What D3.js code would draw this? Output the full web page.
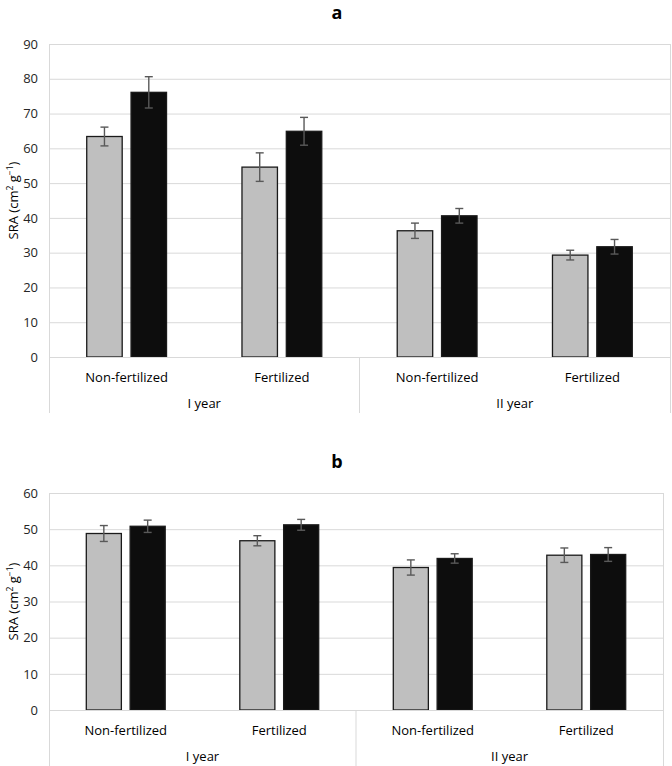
<!DOCTYPE html>
<html><head><meta charset="utf-8">
<script src="https://cdn.jsdelivr.net/npm/d3@7"></script>
<style>
body{margin:0;background:#fff;}
svg{display:block;font-family:"Open Sans",sans-serif;}
</style></head>
<body>
<svg id="chart" width="672" height="766"></svg>
<script>
const categories = ["Non-fertilized","Fertilized","Non-fertilized","Fertilized"];
const groups = ["I year","II year"];
const series = ["gray","black"];
// Panel a
const aGray = [63.4, 54.6, 36.3, 29.3];
const aGrayErr = [2.7, 4.1, 2.2, 1.4];
const aBlack = [76.1, 64.9, 40.6, 31.7];
const aBlackErr = [4.5, 4.0, 2.1, 2.1];
const aTicks = [0,10,20,30,40,50,60,70,80,90];
// Panel b
const bGray = [48.8, 46.8, 39.4, 42.8];
const bGrayErr = [2.2, 1.4, 2.1, 2.0];
const bBlack = [50.8, 51.2, 41.9, 43.0];
const bBlackErr = [1.7, 1.5, 1.3, 1.9];
const bTicks = [0,10,20,30,40,50,60];

const svg = d3.select("#chart");
const colors = {gray:"#bfbfbf", black:"#0d0d0d"};

function panel(cfg){
  const g = svg.append("g");
  const y = d3.scaleLinear().domain([0, cfg.ticks[cfg.ticks.length-1]]).range([cfg.bottom, cfg.top]);
  const x0 = d3.scaleBand().domain(d3.range(categories.length)).range([cfg.left, cfg.right]);
  const half = x0.bandwidth()*0.257;
  const x1 = d3.scaleBand().domain(series).range([-half, half]).paddingInner(0.2);

  // title
  g.append("text").attr("x", 337).attr("y", cfg.top-25).attr("text-anchor","middle")
    .attr("font-weight","bold").attr("font-size","18px").attr("fill","#000").text(cfg.title);

  // gridlines
  g.append("g").selectAll("line").data(cfg.ticks.slice(1)).join("line")
    .attr("x1", cfg.left).attr("x2", cfg.right)
    .attr("y1", d=>y(d)+0.5).attr("y2", d=>y(d)+0.5)
    .attr("stroke","#d9d9d9").attr("stroke-width",1);
  // right border
  g.append("line").attr("x1", cfg.right+0.5).attr("x2", cfg.right+0.5)
    .attr("y1", cfg.top).attr("y2", cfg.bottom).attr("stroke","#d9d9d9");

  // y axis labels
  const yAxis = d3.axisLeft(y).tickValues(cfg.ticks).tickSize(0).tickPadding(11);
  const ya = g.append("g").attr("transform",`translate(${cfg.left},0)`).call(yAxis);
  ya.select(".domain").attr("stroke","#d9d9d9");
  ya.selectAll("text").attr("font-size","13px").attr("fill","#262626").attr("font-family","Open Sans, sans-serif");

  // y title
  const yt = g.append("text").attr("transform",`translate(${cfg.ylabX},${(cfg.top+cfg.bottom)/2}) rotate(-90)`)
    .attr("text-anchor","middle").attr("font-size","13px").attr("fill","#000");
  yt.append("tspan").text("SRA (cm");
  yt.append("tspan").attr("font-size","8.5px").attr("dy","-5").text("2");
  yt.append("tspan").attr("dy","5").text(" g");
  yt.append("tspan").attr("font-size","8.5px").attr("dy","-5").text("−1");
  yt.append("tspan").attr("dy","5").text(")");

  // bars
  const data = [];
  categories.forEach((c,i)=>{
    data.push({i, s:"gray", v:cfg.gray[i], e:cfg.grayErr[i]});
    data.push({i, s:"black", v:cfg.black[i], e:cfg.blackErr[i]});
  });
  const cx = i => x0(i) + x0.bandwidth()/2;
  g.append("g").selectAll("rect").data(data).join("rect")
    .attr("x", d=>cx(d.i)+x1(d.s))
    .attr("y", d=>y(d.v))
    .attr("width", x1.bandwidth())
    .attr("height", d=>y(0)-y(d.v))
    .attr("fill", d=>colors[d.s])
    .attr("stroke","#1a1a1a").attr("stroke-width",1.3);

  // error bars
  const eb = g.append("g").attr("stroke","#595959").attr("stroke-width",1.4);
  data.forEach(d=>{
    const xm = cx(d.i)+x1(d.s)+x1.bandwidth()/2;
    eb.append("line").attr("x1",xm).attr("x2",xm).attr("y1",y(d.v+d.e)).attr("y2",y(d.v-d.e));
    eb.append("line").attr("x1",xm-4).attr("x2",xm+4).attr("y1",y(d.v+d.e)).attr("y2",y(d.v+d.e));
    eb.append("line").attr("x1",xm-4).attr("x2",xm+4).attr("y1",y(d.v-d.e)).attr("y2",y(d.v-d.e));
  });

  // category axis
  g.append("line").attr("x1",cfg.left).attr("x2",cfg.right).attr("y1",y(0)+0.5).attr("y2",y(0)+0.5)
    .attr("stroke","#d9d9d9");
  const mid = x0(2);
  [cfg.left+0.5, mid, cfg.right+0.5].forEach(xx=>{
    g.append("line").attr("x1",xx).attr("x2",xx).attr("y1",y(0)).attr("y2",cfg.catBottom)
      .attr("stroke","#d9d9d9");
  });
  g.append("g").selectAll("text").data(categories).join("text")
    .attr("x",(d,i)=>cx(i)).attr("y", y(0)+25).attr("text-anchor","middle")
    .attr("font-size","13px").attr("fill","#000").text(d=>d);
  g.append("g").selectAll("text").data(groups).join("text")
    .attr("x",(d,i)=>(x0(i*2)+x0(i*2+1)+x0.bandwidth())/2).attr("y", y(0)+51).attr("text-anchor","middle")
    .attr("font-size","13px").attr("fill","#000").text(d=>d);
}

panel({title:"a", top:44, bottom:357, left:49, right:670, ticks:aTicks,
  gray:aGray, grayErr:aGrayErr, black:aBlack, blackErr:aBlackErr, ylabX:18, catBottom:413});
panel({title:"b", top:493, bottom:710, left:49, right:663, ticks:bTicks,
  gray:bGray, grayErr:bGrayErr, black:bBlack, blackErr:bBlackErr, ylabX:18, catBottom:766});
</script>
</body></html>
